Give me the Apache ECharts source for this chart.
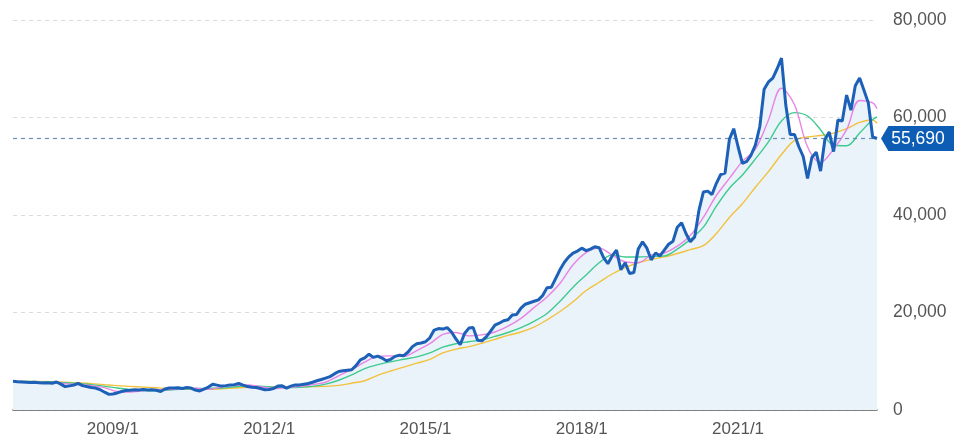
<!DOCTYPE html>
<html>
<head>
<meta charset="utf-8">
<script src="https://cdn.jsdelivr.net/npm/echarts@6/dist/echarts.min.js"></script>
<style>
  html, body { margin: 0; padding: 0; background: #fff; }
  #chart { width: 954px; height: 440px; }
</style>
</head>
<body>
<div id="chart"></div>
<script>
// monthly closes, 2007/2 .. 2023/9
const closePrices = [
  5880, 5800, 5750, 5700, 5650, 5700, 5600, 5550, 5600, 5500,
  5750, 5300, 4800, 4950, 5100, 5450, 5000, 4800, 4600, 4500,
  4200, 3700, 3250, 3300, 3500, 3800, 4000, 4050, 4150, 4100,
  4200, 4100, 4150, 4050, 3800, 4300, 4500, 4500, 4550, 4400,
  4600, 4500, 4100, 3900, 4300, 4700, 5300, 5100, 4900, 5000,
  5150, 5200, 5450, 5100, 4800, 4650, 4600, 4400, 4150, 4200,
  4400, 4900, 4950, 4500, 4900, 5150, 5150, 5300, 5450, 5700,
  6000, 6250, 6550, 6850, 7400, 7900, 8050, 8150, 8250, 9100,
  10300, 10700, 11450, 10800, 11050, 10650, 10100, 10400, 11000, 11250,
  11150, 11900, 13000, 13600, 13750, 14000, 14800, 16400, 16700, 16600,
  16900, 16000, 14600, 13400, 15700, 16800, 16900, 14300, 14200, 15000,
  16200, 17400, 17800, 18300, 18500, 19500, 19600, 20900, 21700, 22000,
  22300, 22600, 23500, 25100, 25200, 27000, 28800, 30300, 31400, 32200,
  32600, 33200, 32700, 33000, 33500, 33300, 31300, 30000, 31600, 32800,
  28800, 30200, 28000, 28200, 33000, 34500, 33200, 30800, 32200, 31600,
  32800, 34000, 34600, 37500, 38400, 36200, 34500, 35500, 41000, 44700,
  44900, 44200, 46500, 48300, 48600, 55500, 57700, 54000, 50600, 51000,
  52300, 54400, 58100, 65800, 67300, 68100, 70000, 72200, 62500, 56500,
  56500, 54000, 52000, 47500, 51800, 52900, 49000, 55500, 57000, 53000,
  59500, 59300, 64600, 61500, 66500, 68100, 65600, 63000, 56000, 55690
];

// moving averages read every 3rd month (plus the last month)
const ma6 = [
  5880, 5800, 5700, 5600, 5400, 5200, 5000, 4600, 3800, 3700,
  4000, 4150, 4200, 4450, 4450, 4250, 4700, 5050, 5150, 4800,
  4400, 4550, 4850, 5200, 5700, 7000, 8300, 9800, 11000, 11100,
  11000, 12200, 13600, 15500, 15900, 15200, 15400, 16000, 17200, 18800,
  21000, 23200, 26000, 29800, 32300, 33200, 31800, 30400, 30200, 31800,
  32200, 33600, 35800, 39500, 44000, 47500, 51000, 53500, 59500, 66000,
  62600, 54000, 50800, 53500, 57500, 63500, 63000, 61800
];
const ma12 = [
  5880, 5850, 5800, 5700, 5600, 5400, 5200, 4900, 4500, 4200,
  4000, 3950, 4100, 4300, 4400, 4400, 4500, 4750, 4950, 4900,
  4700, 4600, 4650, 4850, 5300, 6100, 7200, 8500, 9300, 9900,
  10400, 10900, 11700, 12900, 13600, 14000, 14400, 15100, 15900, 16900,
  18200, 19800, 22300, 25200, 27700, 30200, 31800, 31400, 31400, 31500,
  31600, 33000, 35000, 37500, 41800, 45500, 48200, 51500, 55000, 59300,
  61000, 60300, 57500, 54300, 54200, 56800, 59600, 60100
];
const ma24 = [
  5880, 5870, 5850, 5800, 5700, 5600, 5400, 5200, 5000, 4850,
  4700, 4550, 4400, 4300, 4250, 4250, 4350, 4500, 4650, 4750,
  4800, 4750, 4750, 4800, 4850, 5050, 5500, 6000, 7100, 8000,
  8800, 9600, 10400, 11700, 12500, 13000, 13700, 14500, 15300, 16000,
  17000, 18500, 20200, 22200, 24500, 26200, 27900, 29200, 30200, 30900,
  31400, 32100, 32900, 33700, 36200, 39500, 42300, 45700, 48900, 52400,
  55300, 56000, 56300, 56800, 57700, 59000, 59500, 58800
];

const lastPrice = 55690;
const xTickLabels = ['2009/1', '2012/1', '2015/1', '2018/1', '2021/1'];

// month labels
const months = [];
for (let i = 0; i < closePrices.length; i++) {
  const m = 1 + i; // first month is 2007/2
  const y = 2007 + Math.floor(m / 12);
  months.push(y + '/' + (m % 12 + 1));
}
const maIdx = [];
for (let i = 0; i < closePrices.length; i += 3) maIdx.push(i);
maIdx.push(closePrices.length - 1);

const pairs = arr => arr.map((v, k) => [months[maIdx[k]], v]);

const chart = echarts.init(document.getElementById('chart'));
const font = 'Liberation Sans, Arial, sans-serif';

const maSeries = (name, arr, color) => ({
  name: name,
  type: 'line',
  data: pairs(arr),
  symbol: 'none',
  smooth: 0.35,
  lineStyle: { color: color, width: 1.4 },
  silent: true,
  z: 3
});

chart.setOption({
  animation: false,
  grid: { left: 13, right: 77, top: 20, bottom: 30 },
  xAxis: {
    type: 'category',
    data: months,
    boundaryGap: false,
    axisLine: { lineStyle: { color: '#5c5c5c', width: 1.5 } },
    axisTick: { show: false },
    axisLabel: {
      interval: (idx, val) => xTickLabels.includes(val),
      color: '#555',
      fontSize: 17,
      fontFamily: font,
      margin: 11
    },
    splitLine: { show: false }
  },
  yAxis: {
    type: 'value',
    position: 'right',
    min: 0,
    max: 80000,
    interval: 20000,
    axisLine: { show: false },
    axisTick: { show: false },
    axisLabel: {
      color: '#555',
      fontSize: 17.5,
      fontFamily: font,
      margin: 16,
      formatter: v => v.toLocaleString('en-US')
    },
    splitLine: { lineStyle: { color: '#dcdcdc', type: [4, 4] } }
  },
  series: [
    {
      name: 'area',
      type: 'line',
      data: closePrices,
      symbol: 'none',
      lineStyle: { width: 0 },
      areaStyle: { color: '#eaf2fa', opacity: 1 },
      silent: true,
      z: 1
    },
    maSeries('24', ma24, '#f2c23c'),
    maSeries('12', ma12, '#3fcb8f'),
    maSeries('6', ma6, '#e884e6'),
    {
      name: 'close',
      type: 'line',
      data: closePrices,
      symbol: 'none',
      lineStyle: { color: '#1d60b8', width: 3 },
      z: 5,
      markLine: {
        silent: true,
        symbol: 'none',
        label: { show: false },
        lineStyle: { color: '#6b8db8', type: [4, 4], width: 1.2 },
        data: [{ yAxis: lastPrice }]
      },
      markPoint: {
        silent: true,
        symbol: 'path://M0,10 L7,0 L74,0 L74,20 L7,20 Z',
        symbolKeepAspect: false,
        symbolSize: [78, 25],
        symbolOffset: [43, 0],
        itemStyle: { color: '#0c5db3' },
        label: {
          show: true,
          color: '#fff',
          fontSize: 17.5,
          fontFamily: font,
          offset: [-2, 1],
          formatter: lastPrice.toLocaleString('en-US')
        },
        data: [{ coord: [months[months.length - 1], lastPrice] }]
      }
    }
  ]
});
</script>
</body>
</html>
